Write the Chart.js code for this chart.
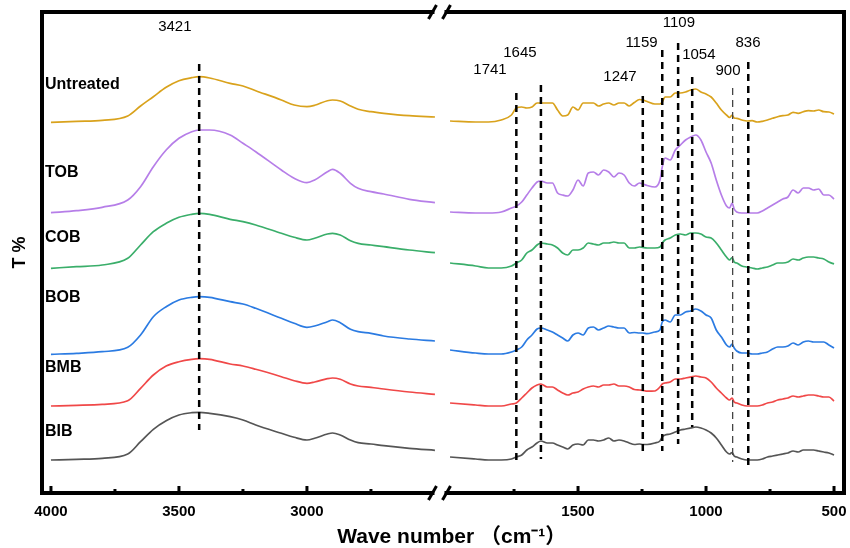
<!DOCTYPE html>
<html><head><meta charset="utf-8">
<script src="https://cdn.jsdelivr.net/npm/chart.js@4/dist/chart.umd.min.js"></script>
<style>html,body{margin:0;padding:0;background:#fff;}canvas{display:block;}</style>
</head><body>
<canvas id="c" width="850" height="548"></canvas>
<script>
// ---- data (wavenumber, cm-1) ----
const wnLeft = [4000,3900,3800,3700,3650,3600,3550,3500,3450,3421,
  3380,3300,3250,3200,3100,3050,3000,2970,2920,2900,
  2870,2830,2800,2750,2700,2600,2500];
const wnRight = [2000,1900,1850,1800,1760,1741,1720,1700,1680,1660,
  1645,1620,1600,1580,1560,1540,1520,1500,1480,1460,
  1440,1420,1400,1380,1360,1340,1320,1300,1280,1260,
  1247,1230,1200,1180,1171,1160,1140,1120,1100,1080,
  1060,1040,1020,1000,980,960,940,920,908,898,
  890,880,860,840,820,800,780,760,740,720,
  700,680,660,640,620,600,580,560,540,520,
  500];
const wavenumbers = wnLeft.concat(wnRight);

const seriesNames = ['Untreated','TOB','COB','BOB','BMB','BIB'];
// transmittance (offset, arbitrary units)
const untreated = [370.7,371.7,372.7,377,387,396.3,405.7,412.3,415.3,416.3,
  415,409.7,407,402.3,393,388,386.3,387.7,392.3,393,
  392,387,383.7,381.3,379.7,377.3,376,
  372,371,371,373,378,385,386,385,386,390,
  390,390,390,383,377,378,386,383,390,390,
  390,387,389,390,388,390,390,387,390.5,393.5,
  393,391.5,389,389,391,396,396,400,400,401,
  403,404,401,399,396,390,383,378,375.5,378,
  375,374.7,373,372,372.3,371,371.7,373,374.7,376.3,
  377.3,378,380.7,379.7,381.3,382.3,382,383,381.3,381,
  379];
const tob = [280.3,282.3,285.7,293,306.3,326.3,343,354.7,361.3,363,
  363,358,349.7,341.3,323,314.7,310.3,313,321.3,323.7,
  319.7,309.7,304.7,301.3,299,293.7,290.3,
  281,280,280,281,285,287,291,298,305,311,
  312,310,310,300,298,297,303,313,307,320,
  321,318,323,321,316,320,318,310,307,310,
  309,307.5,306,313,326,335,333,343,348,353,
  356,358,353,341,330,313,298,287,285,290,
  284,281,280,280,280,280,282,285,288,291,
  294,296,303,300,305,305,303,304,298,298,
  294];
const cob = [224.7,226.3,228,234.7,248,261.3,269.7,275.7,278.7,279.7,
  278.7,273.7,271.3,268,259.7,255.7,253,254.7,259,259.7,
  258,252.3,249.7,248,246.3,243,240.3,
  230,227,225,225,227,230,233,240,243,248,
  250,249,248,245,240,238,243,243,245,250,
  249,248,250,250,251,250,250,245,245,246,
  245.5,245,245,246,250,253,255,258,259,258,
  260,260,259,256,255,250,243,236,233,235.5,
  231,230,227,226,225,224,225,226,228,230,
  230,231,234,233,235,236,236,235,234,231,
  229];
const bob = [138.7,139.7,141.3,145.7,158,176.3,186.3,193,195.7,196.3,
  195.7,191.3,189,184.7,174.7,169.7,165.7,167,171.3,173,
  170.3,163.7,161.3,159.7,157,154,152,
  143,140,139,139,141,143,146,153,158,164,
  165,163,161,158,155,152,158,160,158,165,
  166,163,165,167,166,165,165,160,160.5,160,
  160,159.3,161,163,171,173,171,178,178,181,
  182,184,182,178,175,163,156,148,146,149,
  145,142,140,140,139,139,140,141,144,146,
  146,147,150,148,151,152,151,151,151,148,
  145];
const bmb = [87,87.7,88.7,92.3,104.7,118,127,131.3,133.7,134.3,
  133.7,129,127,123.7,116.3,112.3,109.7,111,114.3,115,
  113.7,109,107,105.7,104,101,98.7,
  90,88,87,87,89,90,95,100,105,108,
  109,106,106,103,100,98,100,101,104,106,
  107,106,108,108,109,107,107,106,103.5,103,
  102.7,101.8,102,106,109,110,111,114,114,115,
  116,117,116,115,111,105,100,95,93,95,
  91,90,88,87,87,87,88,90,91,93,
  94,95,97,96,97,98,98,97,96,96,
  92];
const bib = [33,33.7,34.7,39,51.3,63.7,72.3,78,80.3,80.7,
  79.7,76.3,73,68,59.7,55.7,53,54.7,59,60,
  58,53,50.3,49,47.3,44.7,42.7,
  36,34,33,33,34,36,38,43,46,50,
  52,50,50,48,46,44,48,49,48,53,
  53,52,53,55,52,53,52,50,48.5,49,
  48.5,48.5,50,52,56,58,59,61,63,64,
  65,66,65,63,60,55,48,41,39,40.5,
  37,36,34,33,33,33,34,36,37,38,
  39,40,42,41,43,43,43,42,41,40,
  38];
const seriesValues = [untreated, tob, cob, bob, bmb, bib];

// peak marker lines
const peakLabels = ['3421','1741','1645','1247','1159','1109','1054','900','836'];
const peakPositions = [3421,1741,1645,1247,1171,1109,1054,896,835];
const peakTop = [429,400,408,397,443,450,416,405,431];
const peakBottom = [63,30,34,42,42,49,66,31,26];

const majorTicks = [4000,3500,3000,1500,1000,500];
const minorTicks = [3750,3250,2750,1750,1250,750];

// ---- presentation ----
const colors = ['#D9A21C','#B67EE8','#3AAE6A','#2B7BE2','#F04848','#555555'];
const peakLabelAt = [[3516,466],[1844,423],[1727,440],[1336,416],[1252,450],[1106,470],[1028,438],[914,422],[836,450]];
const seriesLabelY = [408,320,255,195,125,61];

// broken axis: 4000-2500 and 2000-500
function u(wn){ return wn >= 2250 ? 4000 - wn : 3559 - wn; }
function wnOf(x){ return x < 1530 ? 4000 - x : 3559 - x; }
const BREAK_U = 1529.5;

const FONT = "'Liberation Sans', Arial, 'Noto Sans CJK SC', sans-serif";
Chart.defaults.font.family = FONT;
Chart.defaults.color = '#000';

const datasets = [];
peakPositions.forEach((p, i) => {
  const thin = peakLabels[i] === '900';
  datasets.push({
    data: [{x: u(p), y: peakTop[i]}, {x: u(p), y: peakBottom[i]}],
    borderColor: thin ? '#444' : '#000',
    borderWidth: thin ? 1.3 : 2.5,
    borderDash: [7, 5],
    pointRadius: 0, fill: false, tension: 0
  });
});
seriesValues.forEach((arr, si) => {
  const pts = [];
  wavenumbers.forEach((w, i) => {
    if (i === wnLeft.length) pts.push({x: BREAK_U, y: null});
    pts.push({x: u(w), y: arr[i]});
  });
  datasets.push({
    label: seriesNames[si], data: pts, borderColor: colors[si],
    borderWidth: 1.7, pointRadius: 0, fill: false,
    cubicInterpolationMode: 'monotone', spanGaps: false
  });
});

const decor = {
  id: 'decor',
  afterDatasetsDraw(chart) {
    const {ctx, chartArea: a, scales: {x, y}} = chart;
    ctx.save();
    ctx.strokeStyle = '#000';
    ctx.lineCap = 'butt';
    // tick marks (inward)
    ctx.lineWidth = 3;
    majorTicks.forEach(w => { const px = x.getPixelForValue(u(w)); ctx.beginPath(); ctx.moveTo(px, a.bottom); ctx.lineTo(px, a.bottom - 7); ctx.stroke(); });
    minorTicks.forEach(w => { const px = x.getPixelForValue(u(w)); ctx.beginPath(); ctx.moveTo(px, a.bottom); ctx.lineTo(px, a.bottom - 4); ctx.stroke(); });
    // frame with break
    const bx = x.getPixelForValue(BREAK_U) - 3;
    const s1 = bx - 7, s2 = bx + 7;
    ctx.lineWidth = 4;
    ctx.lineCap = 'square';
    ctx.beginPath();
    ctx.moveTo(a.left, a.bottom); ctx.lineTo(a.left, a.top); ctx.lineTo(s1, a.top);
    ctx.moveTo(s2, a.top); ctx.lineTo(a.right, a.top); ctx.lineTo(a.right, a.bottom); ctx.lineTo(s2, a.bottom);
    ctx.moveTo(s1, a.bottom); ctx.lineTo(a.left, a.bottom);
    ctx.stroke();
    ctx.lineCap = 'butt';
    ctx.lineWidth = 3;
    [a.top, a.bottom].forEach(yy => {
      [s1, s2].forEach(sx => { ctx.beginPath(); ctx.moveTo(sx - 4, yy + 7); ctx.lineTo(sx + 4, yy - 7); ctx.stroke(); });
    });
    // peak labels
    ctx.fillStyle = '#000';
    ctx.textAlign = 'center'; ctx.textBaseline = 'middle';
    ctx.font = "15px " + FONT;
    peakLabels.forEach((t, i) => {
      ctx.fillText(t, x.getPixelForValue(u(peakLabelAt[i][0])), y.getPixelForValue(peakLabelAt[i][1]));
    });
    // series labels
    ctx.textAlign = 'left';
    ctx.font = "bold 16px " + FONT;
    seriesNames.forEach((n, i) => { ctx.fillText(n, a.left + 3, y.getPixelForValue(seriesLabelY[i])); });
    ctx.restore();
  }
};

new Chart(document.getElementById('c'), {
  type: 'line',
  data: { datasets },
  plugins: [decor],
  options: {
    responsive: false, animation: false, devicePixelRatio: 1,
    layout: { padding: { left: 0, right: 6, top: 12, bottom: 0 } },
    plugins: { legend: { display: false }, tooltip: { enabled: false } },
    scales: {
      x: {
        type: 'linear', position: 'bottom', min: -35, max: 3098,
        grid: { display: false }, border: { display: false },
        afterBuildTicks: s => { s.ticks = majorTicks.map(w => ({ value: u(w) })); },
        afterFit: s => { s.height = 55; s.paddingLeft = 0; s.paddingRight = 0; },
        ticks: { autoSkip: false, maxRotation: 0, minRotation: 0, padding: 2, color: '#000',
          font: { size: 15, weight: 'bold' }, callback: v => String(Math.round(wnOf(v))) },
        title: { display: true, text: '   Wave number （cm⁻¹）', color: '#000',
          font: { size: 21, weight: 'bold', lineHeight: 1 }, padding: { top: 8, bottom: 0 } }
      },
      y: {
        min: 0, max: 481,
        grid: { display: false }, border: { display: false },
        ticks: { display: false },
        afterFit: s => { s.width = 42; },
        title: { display: true, text: 'T %', color: '#000',
          font: { size: 18, weight: 'bold' }, padding: { top: 9, bottom: 0 } }
      }
    }
  }
});
</script>
</body></html>
